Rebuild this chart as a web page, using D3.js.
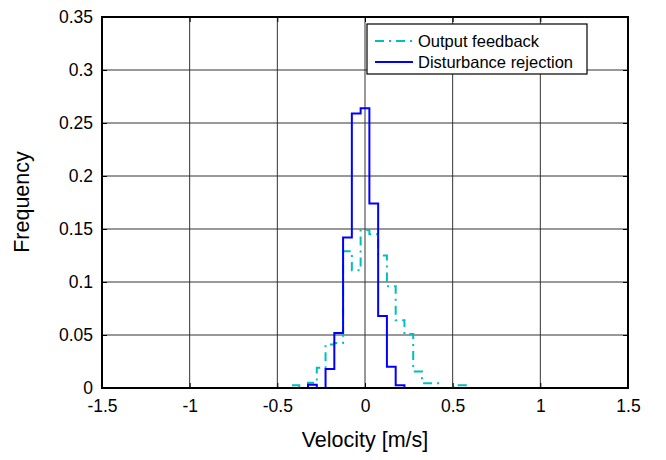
<!DOCTYPE html>
<html lang="en">
<head>
<meta charset="UTF-8">
<title>Velocity histogram</title>
<script src="https://d3js.org/d3.v7.min.js"></script>
<style>
    body { margin: 0; padding: 0; background: #fff; overflow: hidden; }
    svg text { font-family: "Liberation Sans", Arial, sans-serif; fill: #000; }
</style>
</head>
<body>
<div id="chart"></div>
<script>
    // bin centres, -1 .. 1 in steps of 0.05
    const binCentres = [-1, -0.95, -0.9, -0.85, -0.8, -0.75, -0.7, -0.65, -0.6, -0.55,
        -0.5, -0.45, -0.4, -0.35, -0.3, -0.25, -0.2, -0.15, -0.1, -0.05,
        0, 0.05, 0.1, 0.15, 0.2, 0.25, 0.3, 0.35, 0.4, 0.45,
        0.5, 0.55, 0.6, 0.65, 0.7, 0.75, 0.8, 0.85, 0.9, 0.95, 1];

    // Output feedback (cyan, dash-dot)
    const outputFeedback = [0, 0, 0, 0, 0, 0, 0, 0, 0, 0,
        0, 0, 0.0025, 0, 0.005, 0.019, 0.041, 0.0425, 0.129, 0.111,
        0.149, 0.145, 0.125, 0.096, 0.064, 0.051, 0.0155, 0.0045, 0.0045, 0,
        0.001, 0.0025, 0, 0, 0, 0, 0, 0, 0, 0, 0];

    // Disturbance rejection (blue, solid)
    const disturbanceRejection = [0, 0, 0, 0, 0, 0, 0, 0, 0, 0,
        0, 0, 0, 0, 0.003, 0, 0.018, 0.052, 0.142, 0.259,
        0.264, 0.174, 0.068, 0.020, 0.0025, 0, 0, 0, 0, 0,
        0, 0, 0, 0, 0, 0, 0, 0, 0, 0, 0];

    const xTicks = [-1.5, -1, -0.5, 0, 0.5, 1, 1.5];
    const yTicks = [0, 0.05, 0.1, 0.15, 0.2, 0.25, 0.3, 0.35];

    const series = [
        { name: "Output feedback", values: outputFeedback, color: "#00BFBF", dash: "9,5,2,5" },
        { name: "Disturbance rejection", values: disturbanceRejection, color: "#0000FF", dash: null }
    ];

    const W = 666, H = 460;
    const margin = { top: 17, right: 38, bottom: 72, left: 102 };
    const width = W - margin.left - margin.right;
    const height = H - margin.top - margin.bottom;

    const svg = d3.select("#chart").append("svg")
        .attr("width", W)
        .attr("height", H);

    const g = svg.append("g")
        .attr("transform", `translate(${margin.left},${margin.top})`);

    const x = d3.scaleLinear().domain([-1.5, 1.5]).range([0, width]);
    const y = d3.scaleLinear().domain([0, 0.35]).range([height, 0]);

    // plain hyphen for negatives, like the original
    const fmt = d => String(d);

    // grid
    g.append("g").selectAll("line")
        .data(xTicks.slice(1, -1))
        .join("line")
        .attr("x1", d => x(d)).attr("x2", d => x(d))
        .attr("y1", 0).attr("y2", height)
        .attr("stroke", "#333").attr("stroke-width", 1);

    g.append("g").selectAll("line")
        .data(yTicks.slice(1, -1))
        .join("line")
        .attr("x1", 0).attr("x2", width)
        .attr("y1", d => y(d)).attr("y2", d => y(d))
        .attr("stroke", "#333").attr("stroke-width", 1);

    // histogram stairs
    const line = d3.line()
        .x((d, i) => x(binCentres[i]))
        .y(d => y(d))
        .curve(d3.curveStep);

    series.forEach(s => {
        g.append("path")
            .datum(s.values)
            .attr("fill", "none")
            .attr("stroke", s.color)
            .attr("stroke-width", 2)
            .attr("stroke-dasharray", s.dash)
            .attr("d", line);
    });

    // axes (ticks inward, MATLAB style)
    const xAxis = g.append("g")
        .attr("transform", `translate(0,${height})`)
        .call(d3.axisBottom(x).tickValues(xTicks).tickFormat(fmt).tickSizeInner(-5).tickSizeOuter(0).tickPadding(12));
    const yAxis = g.append("g")
        .call(d3.axisLeft(y).tickValues(yTicks).tickFormat(fmt).tickSizeInner(-5).tickSizeOuter(0).tickPadding(9));
    const xTop = g.append("g")
        .call(d3.axisTop(x).tickValues(xTicks).tickFormat("").tickSizeInner(-5).tickSizeOuter(0));
    const yRight = g.append("g")
        .attr("transform", `translate(${width},0)`)
        .call(d3.axisRight(y).tickValues(yTicks).tickFormat("").tickSizeInner(-5).tickSizeOuter(0));

    [xAxis, yAxis, xTop, yRight].forEach(a => {
        a.select(".domain").remove();
        a.selectAll(".tick line").attr("stroke", "#000");
        a.selectAll("text").attr("font-size", 17.5);
    });

    // box
    g.append("rect")
        .attr("width", width).attr("height", height)
        .attr("fill", "none")
        .attr("stroke", "#000").attr("stroke-width", 2);

    // axis titles
    svg.append("text")
        .attr("x", margin.left + width / 2)
        .attr("y", 447)
        .attr("text-anchor", "middle")
        .attr("font-size", 21.5)
        .text("Velocity [m/s]");

    svg.append("text")
        .attr("transform", `translate(29,${202}) rotate(-90)`)
        .attr("text-anchor", "middle")
        .attr("font-size", 21.5)
        .text("Frequency");

    // legend
    const legend = svg.append("g").attr("transform", "translate(367,24)");
    legend.append("rect")
        .attr("width", 220).attr("height", 50)
        .attr("fill", "#fff")
        .attr("stroke", "#000").attr("stroke-width", 1.2);

    series.forEach((s, i) => {
        const row = legend.append("g").attr("transform", `translate(0,${17 + i * 21})`);
        row.append("line")
            .attr("x1", 8).attr("x2", 46)
            .attr("stroke", s.color).attr("stroke-width", 2)
            .attr("stroke-dasharray", s.dash);
        row.append("text")
            .attr("x", 51).attr("y", 5.5)
            .attr("font-size", 16.5)
            .text(s.name);
    });
</script>
</body>
</html>
